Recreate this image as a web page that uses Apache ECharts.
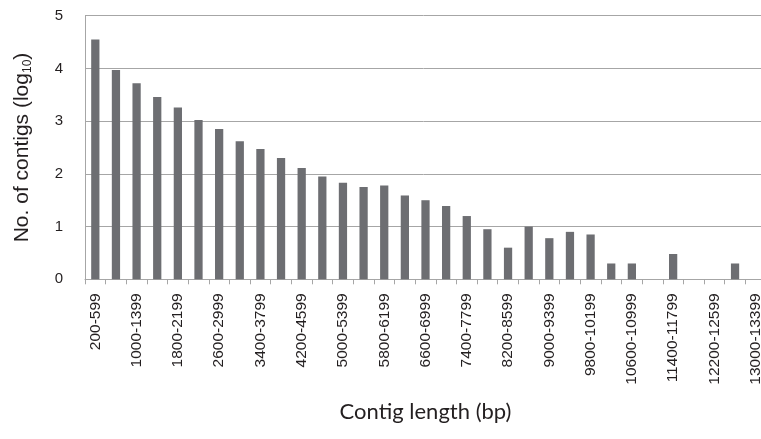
<!DOCTYPE html>
<html>
<head>
<meta charset="utf-8">
<script src="https://cdn.jsdelivr.net/npm/echarts@6/dist/echarts.min.js"></script>
<style>
html,body{margin:0;padding:0;background:#fff;}
#chart{width:761px;height:439px;}
</style>
</head>
<body>
<div id="chart"></div>
<script>
var categories = ["200-599","600-999","1000-1399","1400-1799","1800-2199","2200-2599","2600-2999","3000-3399","3400-3799","3800-4199","4200-4599","4600-4999","5000-5399","5400-5799","5800-6199","6200-6599","6600-6999","7000-7399","7400-7799","7800-8199","8200-8599","8600-8999","9000-9399","9400-9799","9800-10199","10200-10599","10600-10999","11000-11399","11400-11799","11800-12199","12200-12599","12600-12999","13000-13399"];
var logCounts = [4.55, 3.97, 3.72, 3.46, 3.26, 3.02, 2.85, 2.62, 2.47, 2.30, 2.11, 1.95, 1.83, 1.75, 1.78, 1.59, 1.50, 1.39, 1.20, 0.95, 0.60, 1.00, 0.78, 0.90, 0.85, 0.30, 0.30, 0, 0.48, 0, 0, 0.30, 0];
var yTicks = [0, 1, 2, 3, 4, 5];

var chart = echarts.init(document.getElementById('chart'), null, {renderer: 'canvas'});
chart.setOption({
  animation: false,
  backgroundColor: '#ffffff',
  grid: {left: 85, right: -5, top: 15.7, bottom: 159.7, containLabel: false, outerBoundsMode: 'none'},
  xAxis: {
    type: 'category',
    data: categories,
    boundaryGap: true,
    name: 'Contig length (bp)',
    nameLocation: 'middle',
    nameGap: 122,
    nameTextStyle: {fontFamily: 'Lato', fontSize: 22, color: '#231f20'},
    axisLine: {show: true, lineStyle: {color: '#a6a6a6', width: 1}},
    axisTick: {show: true, interval: 0, length: 5, lineStyle: {color: '#a6a6a6'}},
    axisLabel: {interval: 1, rotate: 90, margin: 14, fontFamily: 'Liberation Sans', fontSize: 15.5, color: '#231f20'},
    splitLine: {show: false}
  },
  yAxis: {
    type: 'value',
    min: yTicks[0],
    max: yTicks[yTicks.length - 1],
    interval: 1,
    name: 'No. of contigs (log{sub|10})',
    nameLocation: 'middle',
    nameGap: 51,
    nameTextStyle: {
      fontFamily: 'Liberation Sans', fontSize: 21, color: '#231f20',
      rich: {sub: {fontFamily: 'Liberation Sans', fontSize: 12, color: '#231f20', verticalAlign: 'bottom', padding: [12, 0, 0, 0]}}
    },
    axisLine: {show: true, lineStyle: {color: '#a6a6a6', width: 1}},
    axisTick: {show: false},
    axisLabel: {margin: 22, fontFamily: 'Liberation Sans', fontSize: 15, color: '#231f20'},
    splitLine: {show: true, lineStyle: {color: '#a6a6a6', width: 1}}
  },
  series: [{
    type: 'bar',
    data: logCounts,
    barWidth: '40%',
    itemStyle: {color: '#6d6e72'}
  }]
});
</script>
</body>
</html>
